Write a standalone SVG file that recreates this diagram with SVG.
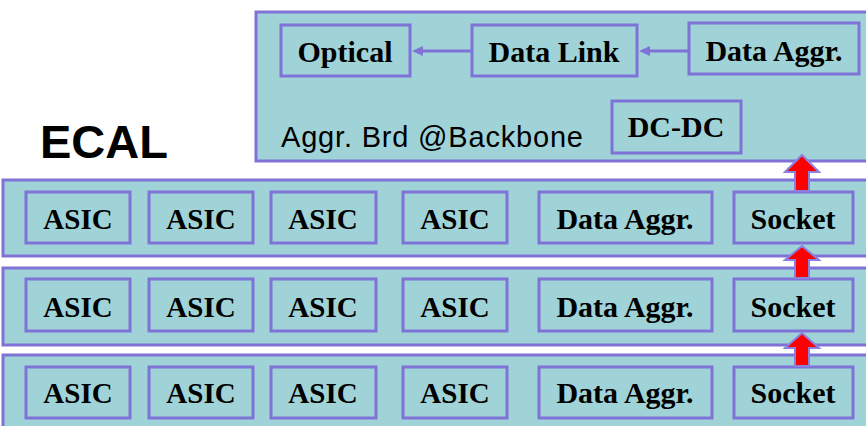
<svg xmlns="http://www.w3.org/2000/svg" width="866" height="426" viewBox="0 0 866 426">
<defs>
<style>
.board{fill:#9fd3d7;stroke:#7f73d8;stroke-width:3}
.box{fill:#9fd3d7;stroke:#7f73d8;stroke-width:3}
.t{font-family:"Liberation Serif","Times New Roman",serif;font-weight:bold;font-size:30px;fill:#000;text-anchor:middle}
.a{font-size:29px}
.lbl{font-family:"Liberation Sans",Arial,sans-serif;font-size:29px;fill:#000}
.ecal{font-family:"Liberation Sans",Arial,sans-serif;font-weight:bold;font-size:47px;fill:#000}
.link{stroke:#7f73d8;stroke-width:3;fill:none}
.head{fill:#7f73d8}
.up{fill:#ff0000;stroke:#8a80e0;stroke-width:2}
</style>
</defs>
<rect width="866" height="426" fill="#ffffff"/>
<text class="ecal" x="40" y="158">ECAL</text>
<g id="aggr-board">
<rect class="board" x="256" y="12" width="620" height="149"/>
<text class="lbl" x="281" y="147" textLength="302" lengthAdjust="spacing">Aggr.  Brd @Backbone</text>
</g>
<g id="optical"><rect class="box" x="281" y="25" width="129" height="51"/><text class="t" x="345" y="62">Optical</text></g>
<g id="datalink"><rect class="box" x="472" y="25" width="165" height="51"/><text class="t" x="554" y="62">Data Link</text></g>
<g id="dataaggr-top"><rect class="box" x="689" y="23" width="170" height="51"/><text class="t" x="774" y="61">Data Aggr.</text></g>
<g id="dcdc"><rect class="box" x="612" y="101" width="129" height="52"/><text class="t" x="676" y="137">DC-DC</text></g>
<g id="row1">
<rect class="board" x="3" y="180" width="870" height="76"/>
<rect class="box" x="26" y="192" width="104" height="51"/><text class="t a" x="78" y="229">ASIC</text>
<rect class="box" x="149" y="192" width="104" height="51"/><text class="t a" x="201" y="229">ASIC</text>
<rect class="box" x="271" y="192" width="105" height="51"/><text class="t a" x="323" y="229">ASIC</text>
<rect class="box" x="403" y="192" width="104" height="51"/><text class="t a" x="455" y="229">ASIC</text>
<rect class="box" x="539" y="192" width="173" height="51"/><text class="t" x="625" y="229">Data Aggr.</text>
<rect class="box" x="734" y="192" width="119" height="51"/><text class="t" x="793" y="229">Socket</text>
</g>
<g id="row2">
<rect class="board" x="3" y="268" width="870" height="77"/>
<rect class="box" x="26" y="279" width="104" height="52"/><text class="t a" x="78" y="317">ASIC</text>
<rect class="box" x="149" y="279" width="104" height="52"/><text class="t a" x="201" y="317">ASIC</text>
<rect class="box" x="271" y="279" width="105" height="52"/><text class="t a" x="323" y="317">ASIC</text>
<rect class="box" x="403" y="279" width="104" height="52"/><text class="t a" x="455" y="317">ASIC</text>
<rect class="box" x="539" y="279" width="173" height="52"/><text class="t" x="625" y="317">Data Aggr.</text>
<rect class="box" x="734" y="279" width="119" height="52"/><text class="t" x="793" y="317">Socket</text>
</g>
<g id="row3">
<rect class="board" x="3" y="355" width="870" height="80"/>
<rect class="box" x="26" y="367" width="104" height="51"/><text class="t a" x="78" y="403">ASIC</text>
<rect class="box" x="149" y="367" width="104" height="51"/><text class="t a" x="201" y="403">ASIC</text>
<rect class="box" x="271" y="367" width="105" height="51"/><text class="t a" x="323" y="403">ASIC</text>
<rect class="box" x="403" y="367" width="104" height="51"/><text class="t a" x="455" y="403">ASIC</text>
<rect class="box" x="539" y="367" width="173" height="51"/><text class="t" x="625" y="403">Data Aggr.</text>
<rect class="box" x="734" y="367" width="119" height="51"/><text class="t" x="793" y="403">Socket</text>
</g>
<g id="connectors">
<line class="link" x1="472" y1="51" x2="420" y2="51"/>
<polygon class="head" points="412,51 423,46 423,56"/>
<line class="link" x1="689" y1="51" x2="647" y2="51"/>
<polygon class="head" points="639,51 650,46 650,56"/>
<polygon class="up" points="802,155 819,172 809,172 809,191 795,191 795,172 785,172"/>
<polygon class="up" points="802,246 819,260 809,260 809,278 795,278 795,260 785,260"/>
<polygon class="up" points="802,333 819,348 809,348 809,366 795,366 795,348 785,348"/>
</g>
</svg>
